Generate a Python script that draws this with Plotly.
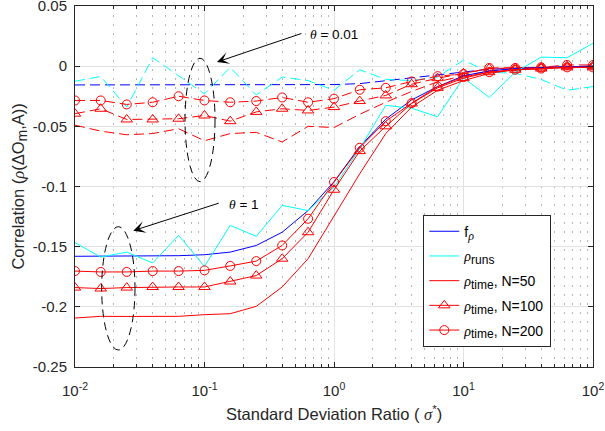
import plotly.graph_objects as go

# ---------------- data ----------------
sigma_ratio = [0.01, 0.0158, 0.0251, 0.0398, 0.0631, 0.1, 0.158, 0.251, 0.398, 0.631,
               1.0, 1.58, 2.51, 3.98, 6.31, 10.0, 15.8, 25.1, 39.8, 63.1, 100.0]

# theta = 1 (solid)
f_rho_t1 = [-0.158, -0.158, -0.158, -0.158, -0.1575, -0.1567, -0.1545, -0.149, -0.138, -0.120,
            -0.096, -0.067, -0.044, -0.028, -0.017, -0.008, -0.004, -0.002, -0.001, -0.0005, 0.0]
rho_runs_t1 = [-0.1467, -0.1586, -0.1545, -0.1636, -0.1406, -0.1664, -0.1323, -0.1414, -0.1157, -0.120,
               -0.1005, -0.0686, -0.0326, -0.035, -0.042, -0.0097, -0.026, -0.005, 0.0075, 0.007, 0.019]
rho_time50_t1 = [-0.2093, -0.2079, -0.208, -0.2079, -0.2079, -0.2065, -0.2057, -0.1996, -0.1835, -0.160,
                 -0.1248, -0.0894, -0.056, -0.034, -0.020, -0.012, -0.006, -0.003, -0.002, -0.001, -0.001]
rho_time100_t1 = [-0.184, -0.1848, -0.184, -0.1835, -0.1835, -0.1835, -0.179, -0.174, -0.160, -0.138,
                  -0.1027, -0.0706, -0.050, -0.031, -0.018, -0.010, -0.005, -0.003, -0.002, -0.001, -0.001]
rho_time200_t1 = [-0.1703, -0.171, -0.171, -0.1703, -0.1703, -0.1697, -0.166, -0.162, -0.149, -0.1268,
                  -0.0963, -0.0678, -0.0457, -0.0307, -0.017, -0.009, -0.005, -0.003, -0.002, -0.001, -0.001]

# theta = 0.01 (dashed)
f_rho_t001 = [-0.0156, -0.0156, -0.0156, -0.0156, -0.0156, -0.0156, -0.0156, -0.0156, -0.0155, -0.0155,
              -0.0153, -0.0145, -0.012, -0.0097, -0.007, -0.0044, -0.0025, -0.0017, -0.001, -0.0005, 0.0]
rho_runs_t001 = [-0.0125, -0.0086, -0.034, 0.007, -0.008, -0.023, -0.001, -0.024, -0.009, -0.012,
                 -0.020, -0.003, -0.011, -0.012, -0.009, 0.005, -0.005, -0.006, -0.011, -0.020, -0.017]
rho_time50_t001 = [-0.049, -0.054, -0.057, -0.056, -0.052, -0.062, -0.056, -0.055, -0.063, -0.050,
                   -0.051, -0.040, -0.030, -0.021, -0.013, -0.008, -0.004, -0.002, -0.001, -0.001, 0.0]
rho_time100_t001 = [-0.0395, -0.0354, -0.0443, -0.0443, -0.0437, -0.041, -0.0457, -0.038, -0.0354, -0.0368,
                    -0.034, -0.029, -0.0243, -0.015, -0.010, -0.006, -0.002, -0.0015, -0.001, 0.0, 0.0]
rho_time200_t001 = [-0.0285, -0.0285, -0.0318, -0.030, -0.025, -0.0285, -0.030, -0.029, -0.026, -0.030,
                    -0.027, -0.0196, -0.018, -0.0127, -0.0083, -0.0065, -0.0015, -0.0015, -0.001, 0.001, 0.001]

y_tick_vals = [0.05, 0.0, -0.05, -0.1, -0.15, -0.2, -0.25]
y_tick_text = ["0.05", "0", "-0.05", "-0.1", "-0.15", "-0.2", "-0.25"]
x_tick_vals = [0.01, 0.1, 1, 10, 100]
x_tick_text = ["10<sup>-2</sup>", "10<sup>-1</sup>", "10<sup>0</sup>", "10<sup>1</sup>", "10<sup>2</sup>"]
x_minor_vals = [m * d for d in [0.01, 0.1, 1, 10] for m in range(2, 10)]

BLUE = "#0000ff"
CYAN = "#00ffff"
RED = "#ff0000"
FONT = "Liberation Sans"
GREEK = "<span style=\"font-family:'Liberation Serif'\"><i>%s</i></span>"
rho = GREEK % "ρ"


def sub(t, size=12):
    return "<sub><span style=\"font-size:%gpx\">%s</span></sub>" % (size, t)


fig = go.Figure()


def add(y, color, dash, symbol=None, name=None, legend=False, msize=9, group=None):
    mode = "lines+markers" if symbol else "lines"
    fig.add_trace(go.Scatter(
        x=sigma_ratio, y=y, mode=mode, name=name, showlegend=legend, legendgroup=group,
        line=dict(color=color, width=1, dash=dash),
        marker=dict(symbol=symbol, size=msize, color=color, line=dict(color=color, width=1)) if symbol else None,
    ))


DASH = "10px,5px"
# theta = 0.01 (dashed)
add(f_rho_t001, BLUE, DASH)
add(rho_runs_t001, CYAN, DASH)
add(rho_time50_t001, RED, DASH)
add(rho_time100_t001, RED, DASH, "triangle-up-open", msize=10)
add(rho_time200_t001, RED, DASH, "circle-open")
# theta = 1 (solid)
add(f_rho_t1, BLUE, "solid", name="f" + sub(rho), legend=True, group="a")
add(rho_runs_t1, CYAN, "solid", name=rho + sub("runs"), legend=True, group="b")
add(rho_time50_t1, RED, "solid", name=rho + sub("time") + ", N=50", legend=True, group="c")
add(rho_time100_t1, RED, "solid", "triangle-up-open", name=rho + sub("time") + ", N=100",
    legend=True, msize=10, group="d")
add(rho_time200_t1, RED, "solid", "circle-open", name=rho + sub("time") + ", N=200",
    legend=True, group="e")

AX = "#262626"
fig.update_layout(
    width=605, height=431,
    margin=dict(l=75, r=12, t=6, b=64),
    paper_bgcolor="white", plot_bgcolor="white",
    font=dict(family=FONT, size=15, color=AX),
    showlegend=True,
    legend=dict(x=0.6724, y=0.4220, xanchor="left", yanchor="top", tracegroupgap=3.5,
                bgcolor="white", bordercolor=AX, borderwidth=1,
                font=dict(size=14, color="black", family=FONT)),
    xaxis=dict(type="log", range=[-2, 2], tickvals=x_tick_vals, ticktext=x_tick_text, automargin=False,
               ticks="inside", ticklen=5, tickcolor=AX, showline=True, linecolor=AX, linewidth=1,
               mirror="ticks", showgrid=True, gridcolor="#e2e2e2", gridwidth=1, zeroline=False,
               tickfont=dict(size=15, color=AX), ticklabelstandoff=10, ticklabeloverflow="allow",
               minor=dict(tickvals=x_minor_vals, ticks="inside", ticklen=3, tickcolor=AX,
                          showgrid=True, gridcolor="#b8b8b8", griddash="2px,7px", gridwidth=1)),
    yaxis=dict(range=[-0.25, 0.0500001], tickvals=y_tick_vals, ticktext=y_tick_text, automargin=False,
               ticks="inside", ticklen=5, tickcolor=AX, showline=True, linecolor=AX, linewidth=1,
               mirror="ticks", showgrid=True, gridcolor="#e2e2e2", gridwidth=1, zeroline=False,
               tickfont=dict(size=15, color=AX), ticklabelstandoff=4, ticklabeloverflow="allow"),
)

# ellipses (dashed) grouping the curves
ell = dict(type="circle", xref="paper", yref="paper", line=dict(color="black", width=1, dash="8px,5px"))
fig.add_shape(x0=0.2124, x1=0.2703, y0=0.5133, y1=0.8551, **ell)
fig.add_shape(x0=0.0515, x1=0.1158, y0=0.0471, y1=0.3886, **ell)

# arrows
arr = dict(xref="paper", yref="paper", text="", showarrow=True, arrowhead=3, arrowsize=2,
           arrowwidth=1, arrowcolor="black", axref="pixel", ayref="pixel")
fig.add_annotation(x=0.2741, y=0.8449, ax=86, ay=-29, **arr)
fig.add_annotation(x=0.1125, y=0.3776, ax=87, ay=-28, **arr)

theta = GREEK % "θ"
fig.add_annotation(x=0.4498, y=0.9197, xref="paper", yref="paper", xanchor="left", yanchor="middle",
                   text="%s = 0.01" % theta, showarrow=False, font=dict(size=13.5, color="black"))
fig.add_annotation(x=0.2929, y=0.4488, xref="paper", yref="paper", xanchor="left", yanchor="middle",
                   text="%s = 1" % theta, showarrow=False, font=dict(size=13.5, color="black"))

# axis titles
fig.add_annotation(x=0.5, y=-0.130, xref="paper", yref="paper", xanchor="center", yanchor="middle",
                   text="Standard Deviation Ratio ( %s<sup>*</sup>)" % (GREEK % "σ"),
                   showarrow=False, font=dict(size=16.5, color=AX))
fig.add_annotation(x=-0.108, y=0.5, xref="paper", yref="paper", xanchor="center", yanchor="middle",
                   textangle=-90, text="Correlation (%s(ΔO%s,A))" % (rho, sub("m", 14)),
                   showarrow=False, font=dict(size=16.5, color=AX))

fig.write_html("out.html", config={"displayModeBar": False},
               post_script="document.body.style.margin='0';")
